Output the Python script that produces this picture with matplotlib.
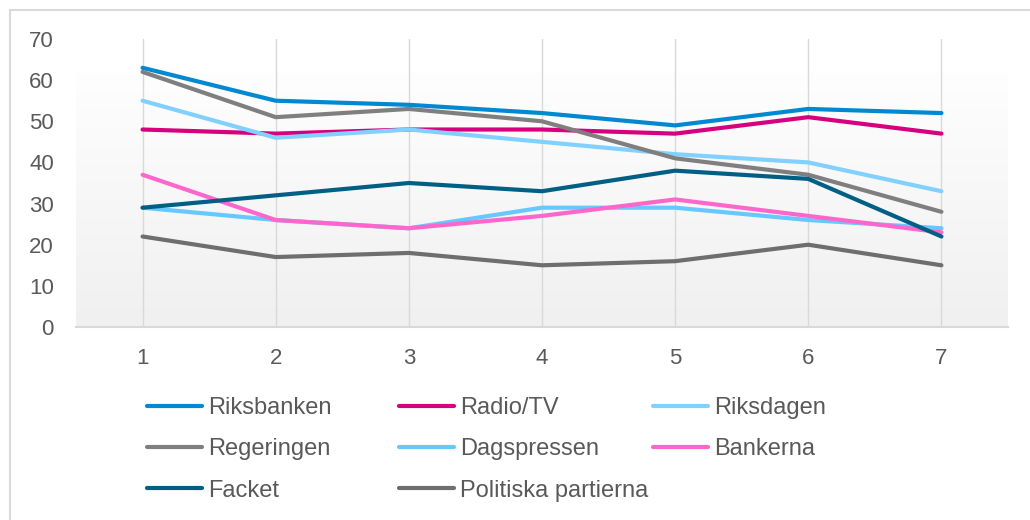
import numpy as np
import matplotlib.pyplot as plt
from matplotlib.patches import Rectangle

plt.rcParams['font.family'] = ['Liberation Sans', 'DejaVu Sans']

x = [1, 2, 3, 4, 5, 6, 7]
names = ['Riksbanken', 'Radio/TV', 'Riksdagen', 'Regeringen', 'Dagspressen',
         'Bankerna', 'Facket', 'Politiska partierna']
riksbanken = [63, 55, 54, 52, 49, 53, 52]
radio_tv = [48, 47, 48, 48, 47, 51, 47]
riksdagen = [55, 46, 48, 45, 42, 40, 33]
regeringen = [62, 51, 53, 50, 41, 37, 28]
dagspressen = [29, 26, 24, 29, 29, 26, 24]
bankerna = [37, 26, 24, 27, 31, 27, 23]
facket = [29, 32, 35, 33, 38, 36, 22]
politiska = [22, 17, 18, 15, 16, 20, 15]
series = [riksbanken, radio_tv, riksdagen, regeringen, dagspressen,
          bankerna, facket, politiska]
colors = ['#0088D1', '#D6007F', '#82D0FF', '#7F7F7F', '#66C8FF',
          '#FF66CC', '#005F85', '#6E6E6E']

W, H = 1030, 520
fig = plt.figure(figsize=(W / 100, H / 100), dpi=100)

# рамка вокруг диаграммы
fig.patches.append(Rectangle((10 / W, -0.1), 1.1, 1 - 10 / H + 0.1,
                             transform=fig.transFigure, fill=False,
                             edgecolor='#D9D9D9', linewidth=1.5))

ax = fig.add_axes([76 / W, (H - 327) / H, (1008 - 76) / W, (327 - 39) / H])
ax.set_xlim(0.5, 7.5)
ax.set_ylim(0, 70)

# градиентный фон области построения
grad = np.linspace(0, 1, 256).reshape(-1, 1)
ax.imshow(grad, extent=[0.5, 7.5, 0, 61.5], aspect='auto', origin='upper',
          cmap=plt.matplotlib.colors.LinearSegmentedColormap.from_list(
              'g', ['#FEFEFE', '#F0F0F0']), zorder=0)

for xi in x:
    ax.axvline(xi, color='#D9D9D9', linewidth=1, zorder=1)

lines = []
for s, c, n in zip(series, colors, names):
    ln, = ax.plot(x, s, color=c, linewidth=3, label=n,
                  solid_capstyle='round', solid_joinstyle='round', zorder=3)
    lines.append(ln)

for sp in ['top', 'right', 'left']:
    ax.spines[sp].set_visible(False)
ax.spines['bottom'].set_color('#D9D9D9')
ax.spines['bottom'].set_linewidth(1.5)

ax.set_xticks(x)
ax.set_yticks(range(0, 71, 10))
ax.tick_params(length=0, labelsize=16, colors='#595959')
ax.tick_params(axis='y', pad=16)
ax.tick_params(axis='x', pad=15)

# легенда: три колонки
col_x = [147, 399, 653]
for k in range(3):
    idx = [k, k + 3, k + 6] if k < 2 else [k, k + 3]
    leg = fig.legend([lines[i] for i in idx], [names[i] for i in idx],
                     loc='upper left', bbox_to_anchor=(col_x[k] / W, 1 - 397 / H),
                     frameon=False, fontsize=17, handlelength=2.35,
                     handletextpad=0.22, labelspacing=0.82, borderpad=0,
                     borderaxespad=0)
    for t in leg.get_texts():
        t.set_color('#595959')

fig.savefig('out.png', dpi=100)
